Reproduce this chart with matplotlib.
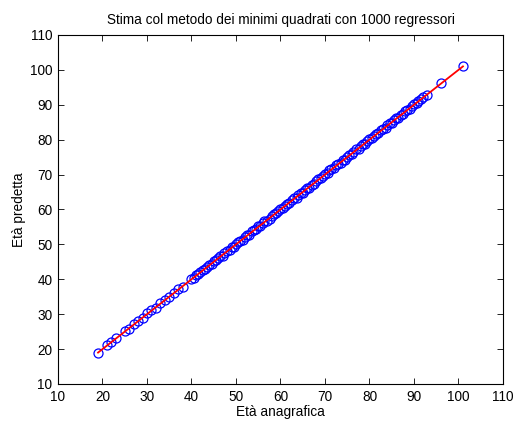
import matplotlib
matplotlib.use("Agg")
import matplotlib.pyplot as plt

# eta anagrafica (anni) e eta predetta dal modello ai minimi quadrati
eta_vera = [
  19, 21, 22, 23, 25, 26, 27, 28, 29, 30, 31, 32, 33, 34, 35, 36, 37, 38,
  40, 40.6, 41, 41.5, 42, 42.6, 43, 43.4, 44, 44.5, 45, 45.6, 46, 46.5,
  47, 47.4, 48, 48.6, 49, 49.5, 50, 50.5, 51, 51.6, 52, 52.4, 53, 53.5,
  54, 54.6, 55, 55.5, 56, 56.4, 57, 57.6, 58, 58.5, 59, 59.5, 60, 60.6,
  61, 61.4, 62, 62.5, 63, 63.6, 64, 64.5, 65, 65.5, 66, 66.4, 67, 67.6,
  68, 68.5, 69, 69.5, 70, 70.6, 71, 71.4, 72, 72.5, 73, 73.6, 74, 74.5,
  75, 75.5, 76, 76.4, 77, 77.6, 78, 78.5, 79, 79.5, 80, 80.6, 81, 81.4,
  82, 82.5, 83, 83.6, 84, 84.5, 85, 85.5, 86, 86.4, 87, 87.6, 88, 88.5,
  89, 89.5, 90, 90.6, 91, 91.5, 92, 93, 96, 101,
]
eta_predetta = [
  18.9, 21.1, 21.9, 23.2, 25.1, 25.8, 27.2, 28.1, 28.8, 30.2, 31.1, 31.9, 33.2, 34.1, 34.8, 36.2, 37.1, 37.8,
  40.2, 40.4, 41.2, 41.4, 42.1, 42.8, 42.9, 43.6, 44.2, 44.3, 45.1, 45.4, 46.2, 46.7,
  46.8, 47.6, 48.1, 48.4, 49.2, 49.3, 50.1, 50.7, 50.9, 51.4, 52.2, 52.6, 52.8, 53.7,
  54.1, 54.4, 55.2, 55.3, 56.1, 56.6, 56.8, 57.4, 58.2, 58.7, 58.9, 59.6, 60.2, 60.4,
  61.1, 61.6, 61.9, 62.7, 63.2, 63.4, 64.1, 64.7, 64.8, 65.6, 66.2, 66.3, 67.1, 67.4,
  68.2, 68.6, 68.9, 69.7, 70.1, 70.4, 71.2, 71.6, 71.8, 72.7, 73.1, 73.4, 74.2, 74.3,
  75.1, 75.7, 75.8, 76.6, 77.2, 77.4, 78.1, 78.7, 78.9, 79.6, 80.2, 80.4, 81.1, 81.6,
  81.9, 82.7, 83.2, 83.4, 84.1, 84.7, 84.8, 85.6, 86.2, 86.3, 87.1, 87.4, 88.2, 88.6,
  88.9, 89.7, 90.1, 90.4, 91.2, 91.6, 92.1, 92.9, 96.1, 101.1,
]

limiti = [10, 110]
tacche = [10, 20, 30, 40, 50, 60, 70, 80, 90, 100, 110]

plt.rcParams['font.family'] = ['Liberation Sans', 'DejaVu Sans']
plt.rcParams['font.size'] = 9.8

fig = plt.figure(figsize=(5.16, 4.21), dpi=100)
ax = fig.add_axes([0.1124, 0.0879, 0.8624, 0.829])

ax.plot(eta_vera, eta_predetta, 'o', color='#0000ff', markerfacecolor='none',
        markersize=6.5, markeredgewidth=0.9, zorder=2)
ax.plot([min(eta_vera), max(eta_vera)], [min(eta_vera), max(eta_vera)],
        '-', color='#ff0000', linewidth=1.3, zorder=3)

ax.set_xlim(limiti)
ax.set_ylim(limiti)
ax.set_xticks(tacche)
ax.set_yticks(tacche)
ax.tick_params(direction='in', length=4, width=0.6, top=True, right=True,
               labelsize=9.8)
ax.tick_params(axis='x', pad=4)
ax.tick_params(axis='y', pad=4)
for lato in ax.spines.values():
  lato.set_linewidth(0.8)

ax.set_title('Stima col metodo dei minimi quadrati con 1000 regressori',
             fontsize=9.8, pad=8)
ax.set_xlabel('Età anagrafica', fontsize=9.8, labelpad=1)
ax.set_ylabel('Età predetta', fontsize=9.8, labelpad=3)

fig.savefig('out.png', dpi=100)
